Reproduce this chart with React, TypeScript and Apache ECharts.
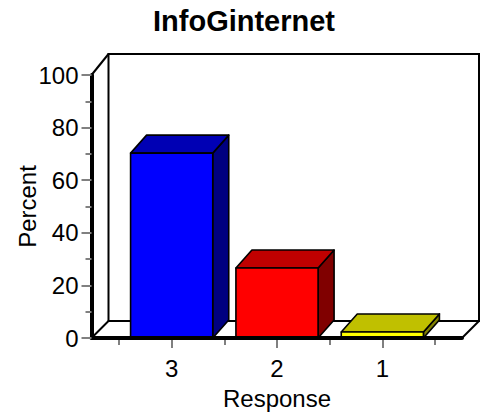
import React, { useEffect, useRef } from "react";
import * as echarts from "echarts";

const categories = ["3", "2", "1"];
const percentValues = [70.3, 26.6, 2.3];
const yMin = 0;
const yMax = 100;
const yStep = 20;

const chartTitle = "InfoGinternet";
const xName = "Response";
const yName = "Percent";

const FONT = "'Liberation Sans', Arial, Helvetica, sans-serif";
const frontColors = ["#0000ff", "#ff0000", "#ffff00"];
const topColors = ["#0000b4", "#c00000", "#c0c000"];
const sideColors = ["#000080", "#800000", "#808000"];

// depth offsets for the pseudo-3D look
const WALL_DX = 17;
const WALL_DY_TOP = -21;
const WALL_DY_BOTTOM = -17;
const BAR_DX = 16;
const BAR_DY = -18;

export default function App() {
  const ref = useRef<HTMLDivElement | null>(null);

  useEffect(() => {
    if (!ref.current) return;
    const chart = echarts.init(ref.current, null, { renderer: "svg" });

    const frameRender = (params: any, api: any) => {
      const p00 = api.coord([0, yMin]);
      const p01 = api.coord([0, yMax]);
      const p10 = api.coord([1, yMin]);
      const bx0 = p00[0] + WALL_DX;
      const bx1 = p10[0] + WALL_DX;
      const by0 = p01[1] + WALL_DY_TOP;
      const by1 = p00[1] + WALL_DY_BOTTOM;
      const lineStyle = { stroke: "#000", lineWidth: 2, fill: null };
      return {
        type: "group",
        children: [
          {
            type: "rect",
            shape: { x: bx0, y: by0, width: bx1 - bx0, height: by1 - by0 },
            style: { fill: "#fff", stroke: "#000", lineWidth: 2 },
          },
          {
            type: "line",
            shape: { x1: p01[0], y1: p01[1], x2: bx0, y2: by0 },
            style: lineStyle,
          },
          {
            type: "line",
            shape: { x1: p00[0], y1: p00[1], x2: bx0, y2: by1 },
            style: lineStyle,
          },
          {
            type: "line",
            shape: { x1: p10[0], y1: p10[1], x2: bx1, y2: by1 },
            style: lineStyle,
          },
        ],
      };
    };

    const barRender = (params: any, api: any) => {
      const idx = api.value(0);
      const v = api.value(1);
      const base = api.coord([idx, 0]);
      const top = api.coord([idx, v]);
      const bw = api.size([1, 0])[0] * 0.78;
      const L = base[0] - bw / 2;
      const R = base[0] + bw / 2;
      const ty = top[1];
      const by = base[1];
      const i = params.dataIndex;
      const stroke = { stroke: "#000", lineWidth: 1.6, lineJoin: "round" };
      return {
        type: "group",
        children: [
          {
            type: "polygon",
            shape: {
              points: [
                [R, ty],
                [R + BAR_DX, ty + BAR_DY],
                [R + BAR_DX, by + BAR_DY],
                [R, by],
              ],
            },
            style: { fill: sideColors[i], ...stroke },
          },
          {
            type: "polygon",
            shape: {
              points: [
                [L, ty],
                [R, ty],
                [R + BAR_DX, ty + BAR_DY],
                [L + BAR_DX, ty + BAR_DY],
              ],
            },
            style: { fill: topColors[i], ...stroke },
          },
          {
            type: "rect",
            shape: { x: L, y: ty, width: R - L, height: by - ty },
            style: { fill: frontColors[i], ...stroke },
          },
        ],
      };
    };

    chart.setOption({
      animation: false,
      title: {
        text: chartTitle,
        left: "center",
        top: 1,
        textStyle: { fontFamily: FONT, fontSize: 29, fontWeight: "bold", color: "#000" },
      },
      grid: [
        { left: 91.5, right: 26, top: 75, bottom: 74, outerBoundsMode: "none", containLabel: false },
        { left: 119, right: 53, top: 75, bottom: 74, outerBoundsMode: "none", containLabel: false },
      ],
      xAxis: [
        {
          type: "value",
          gridIndex: 0,
          min: 0,
          max: 1,
          z: 5,
          axisLine: { show: true, onZero: false, lineStyle: { color: "#000", width: 4 } },
          axisTick: { show: false },
          axisLabel: { show: false },
          splitLine: { show: false },
        },
        {
          type: "category",
          gridIndex: 1,
          data: categories,
          position: "bottom",
          axisLine: { show: false },
          axisTick: { show: true, alignWithLabel: true, length: 10, lineStyle: { color: "#808080", width: 2 } },
          axisLabel: { fontFamily: FONT, fontSize: 24, color: "#000", margin: 18 },
          name: xName,
          nameLocation: "middle",
          nameGap: 48,
          nameMoveOverlap: false,
          nameTextStyle: { fontFamily: FONT, fontSize: 24, color: "#000" },
        },
        {
          type: "category",
          gridIndex: 1,
          data: categories,
          position: "bottom",
          axisLine: { show: false },
          axisTick: { show: true, alignWithLabel: false, length: 7, lineStyle: { color: "#808080", width: 2 } },
          axisLabel: { show: false },
        },
      ],
      yAxis: [
        {
          type: "value",
          gridIndex: 0,
          min: yMin,
          max: yMax,
          interval: yStep,
          z: 5,
          axisLine: { show: true, lineStyle: { color: "#000", width: 4 } },
          axisTick: { show: true, length: 10, lineStyle: { color: "#808080", width: 2 } },
          minorTick: { show: true, splitNumber: 2, length: 6, lineStyle: { color: "#808080", width: 2 } },
          axisLabel: { fontFamily: FONT, fontSize: 24, color: "#000", margin: 13 },
          splitLine: { show: false },
          name: yName,
          nameLocation: "middle",
          nameGap: 52,
          nameMoveOverlap: false,
          nameTextStyle: { fontFamily: FONT, fontSize: 24, color: "#000" },
        },
        {
          type: "value",
          gridIndex: 1,
          min: yMin,
          max: yMax,
          show: false,
        },
      ],
      series: [
        {
          type: "custom",
          name: "frame",
          xAxisIndex: 0,
          yAxisIndex: 0,
          z: 1,
          silent: true,
          data: [[0]],
          renderItem: frameRender,
        },
        {
          type: "custom",
          name: "Percent",
          xAxisIndex: 1,
          yAxisIndex: 1,
          z: 2,
          data: percentValues.map((v, i) => [i, v]),
          renderItem: barRender,
        },
      ],
    });

    return () => chart.dispose();
  }, []);

  return (
    <div
      ref={ref}
      style={{ position: "fixed", left: 0, top: 0, width: 488, height: 412, background: "#fff" }}
    />
  );
}
